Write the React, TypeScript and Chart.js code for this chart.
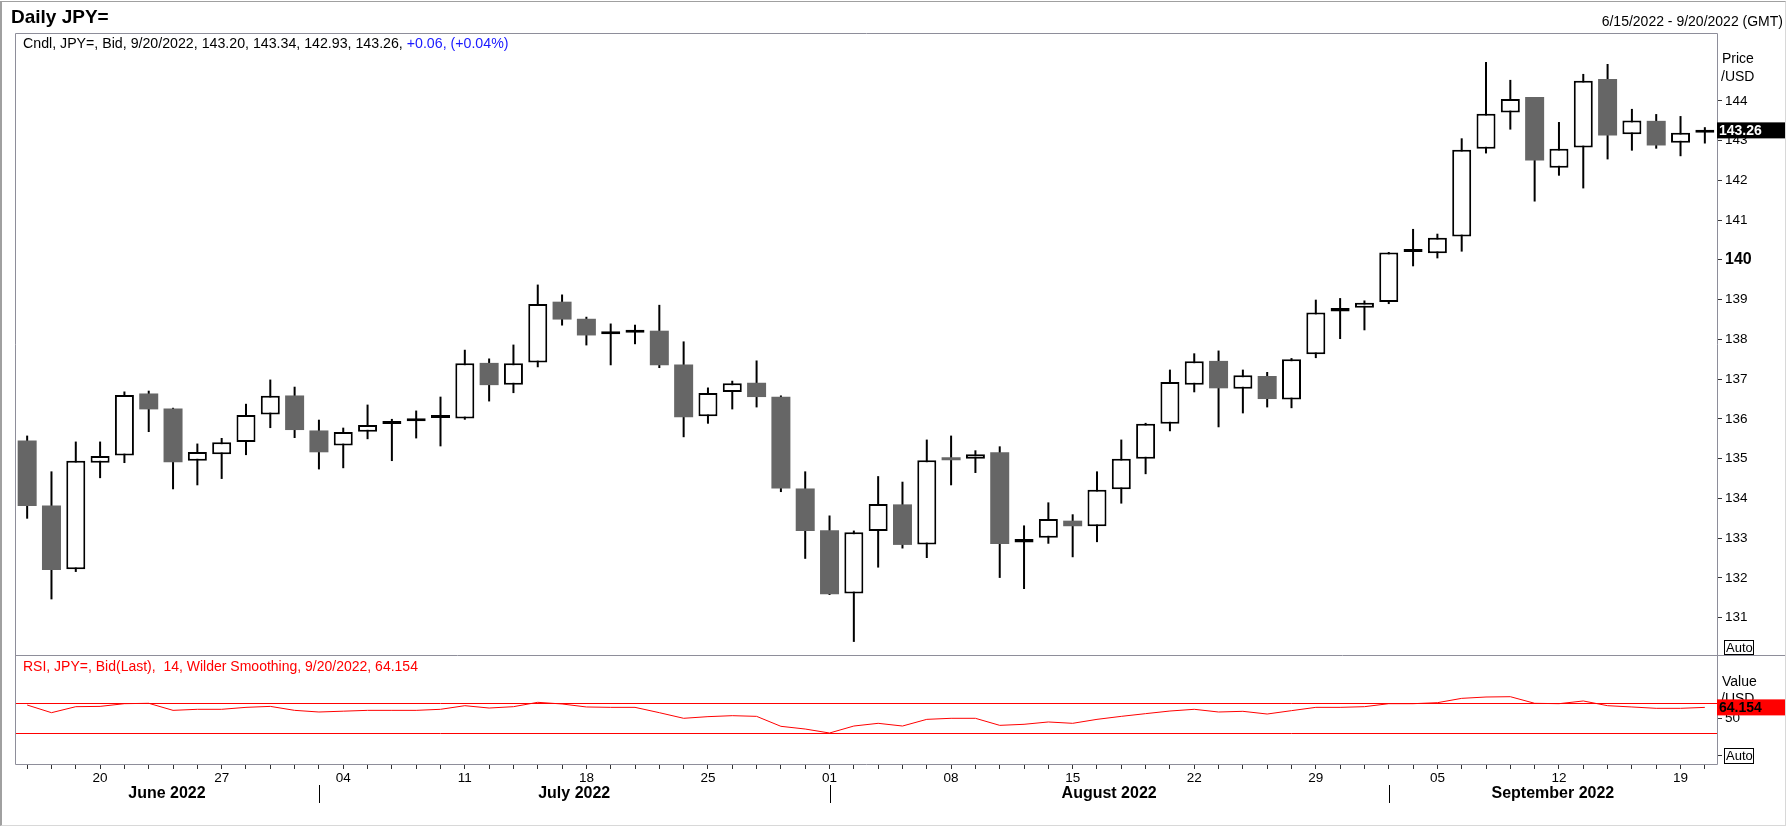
import React, { useEffect, useRef } from 'react';
import { Chart, registerables } from 'chart.js';

Chart.register(...registerables);

const FONT = '"Liberation Sans", Arial, sans-serif';
const FRAME = '#8e8e9a';

const dates = [
  '2022-06-15', '2022-06-16', '2022-06-17', '2022-06-20', '2022-06-21', '2022-06-22', '2022-06-23', '2022-06-24',
  '2022-06-27', '2022-06-28', '2022-06-29', '2022-06-30',
  '2022-07-01', '2022-07-04', '2022-07-05', '2022-07-06', '2022-07-07', '2022-07-08', '2022-07-11', '2022-07-12',
  '2022-07-13', '2022-07-14', '2022-07-15', '2022-07-18', '2022-07-19', '2022-07-20', '2022-07-21', '2022-07-22',
  '2022-07-25', '2022-07-26', '2022-07-27', '2022-07-28', '2022-07-29',
  '2022-08-01', '2022-08-02', '2022-08-03', '2022-08-04', '2022-08-05', '2022-08-08', '2022-08-09', '2022-08-10',
  '2022-08-11', '2022-08-12', '2022-08-15', '2022-08-16', '2022-08-17', '2022-08-18', '2022-08-19', '2022-08-22',
  '2022-08-23', '2022-08-24', '2022-08-25', '2022-08-26', '2022-08-29', '2022-08-30', '2022-08-31',
  '2022-09-01', '2022-09-02', '2022-09-05', '2022-09-06', '2022-09-07', '2022-09-08', '2022-09-09', '2022-09-12',
  '2022-09-13', '2022-09-14', '2022-09-15', '2022-09-16', '2022-09-19', '2022-09-20',
];

const openPrices = [
  135.46, 133.82, 132.22, 134.90, 135.08, 136.64, 136.26, 134.95, 135.11, 135.42, 136.11, 136.59,
  135.71, 135.33, 135.68, 135.87, 135.94, 136.02, 136.01, 137.41, 136.86, 137.42, 138.95, 138.52,
  138.13, 138.17, 138.22, 137.37, 136.07, 136.68, 136.91, 136.56, 134.25,
  133.20, 131.61, 133.18, 133.85, 132.84, 135.03, 135.00, 135.16, 132.89, 133.01, 133.44, 133.30,
  134.23, 135.00, 135.88, 136.86, 137.46, 136.76, 137.08, 136.49, 137.63, 138.70, 138.80,
  138.94, 140.20, 140.17, 140.59, 142.80, 143.71, 144.10, 142.32, 142.83, 144.55, 143.16, 143.50, 142.95, 143.20,
];
const highPrices = [
  135.58, 134.68, 135.43, 135.43, 136.69, 136.71, 136.28, 135.38, 135.52, 136.38, 136.99, 136.81,
  135.98, 135.78, 136.36, 136.00, 136.21, 136.56, 137.74, 137.52, 137.87, 139.38, 139.13, 138.57,
  138.40, 138.37, 138.87, 137.95, 136.79, 136.96, 137.47, 136.59, 134.68,
  133.57, 133.19, 134.56, 134.42, 135.48, 135.58, 135.21, 135.31, 133.32, 133.90, 133.60, 134.68,
  135.48, 135.90, 137.24, 137.65, 137.72, 137.24, 137.18, 137.53, 139.00, 139.04, 138.98,
  140.20, 140.78, 140.66, 143.06, 144.98, 144.53, 144.10, 143.47, 144.68, 144.93, 143.80, 143.67, 143.62, 143.34,
];
const lowPrices = [
  133.49, 131.46, 132.15, 134.51, 134.89, 135.67, 134.23, 134.33, 134.49, 135.09, 135.77, 135.52,
  134.73, 134.76, 135.49, 134.94, 135.51, 135.31, 135.98, 136.44, 136.65, 137.30, 138.35, 137.85,
  137.35, 137.88, 137.28, 135.54, 135.88, 136.24, 136.29, 134.16, 132.48,
  131.57, 130.39, 132.26, 132.74, 132.50, 134.33, 134.64, 132.00, 131.72, 132.86, 132.52, 132.90,
  133.87, 134.61, 135.69, 136.67, 135.79, 136.14, 136.29, 136.27, 137.53, 138.01, 138.23,
  138.89, 139.84, 140.04, 140.21, 142.68, 143.28, 141.47, 142.12, 141.80, 142.53, 142.75, 142.80, 142.61, 142.93,
];
const closePrices = [
  133.81, 132.20, 134.95, 135.07, 136.60, 136.24, 134.91, 135.17, 135.41, 136.10, 136.58, 135.72,
  135.16, 135.67, 135.85, 135.91, 135.96, 136.06, 137.40, 136.85, 137.40, 138.89, 138.50, 138.10,
  138.15, 138.19, 137.35, 136.04, 136.65, 136.90, 136.55, 134.25, 133.18,
  131.59, 133.15, 133.86, 132.83, 134.96, 134.96, 135.11, 132.85, 132.98, 133.48, 133.30, 134.22,
  135.00, 135.88, 136.93, 137.45, 136.77, 137.10, 136.50, 137.50, 138.68, 138.79, 138.92,
  140.19, 140.23, 140.56, 142.77, 143.68, 144.05, 142.50, 142.80, 144.51, 143.13, 143.51, 142.88, 143.20, 143.26,
];

const rsiValues = [
  67.3, 57.1, 65.1, 65.5, 69.1, 69.6, 60.2, 61.6, 61.6, 64.2, 65.5, 60.2,
  58.0, 59.1, 60.2, 60.2, 60.2, 61.6, 66.4, 63.3, 65.1, 70.9, 68.7, 64.7,
  64.2, 64.2, 57.1, 49.6, 51.8, 53.1, 52.2, 38.9, 35.3,
  30.0, 39.3, 42.9, 39.3, 48.2, 49.6, 49.6, 40.2, 41.6, 44.7, 42.9, 48.2,
  52.2, 55.8, 59.3, 61.6, 58.0, 58.9, 55.3, 59.8, 64.2, 64.2, 65.1,
  69.1, 69.1, 70.4, 76.2, 78.0, 78.4, 69.6, 69.1, 72.7, 66.4, 64.7, 62.9, 62.9, 64.154,
];

const priceTicks = [131, 132, 133, 134, 135, 136, 137, 138, 139, 140, 141, 142, 143, 144];
const rsiTicks = [0, 50];
const rsiLevels = [70, 30];

const n = dates.length;

const fmtDate = (s: string) => {
  const [y, m, d] = s.split('-');
  return `${+m}/${+d}/${y}`;
};
const isMonday = (s: string) => {
  const [y, m, d] = s.split('-').map(Number);
  return new Date(y, m - 1, d).getDay() === 1;
};
const monthName = (s: string) => {
  const [y, m] = s.split('-').map(Number);
  return new Date(y, m - 1, 1).toLocaleString('en-US', { month: 'long' }) + ' ' + y;
};

const pricePanel = {
  id: 'pricePanel',
  afterDraw(chart: any) {
    const { ctx, chartArea: a, scales } = chart;
    ctx.save();
    ctx.strokeStyle = FRAME;
    ctx.lineWidth = 1;
    ctx.beginPath();
    ctx.moveTo(a.left + 0.5, a.bottom);
    ctx.lineTo(a.left + 0.5, a.top + 0.5);
    ctx.lineTo(a.right + 0.5, a.top + 0.5);
    ctx.lineTo(a.right + 0.5, a.bottom);
    ctx.stroke();

    ctx.textAlign = 'left';
    ctx.textBaseline = 'alphabetic';
    ctx.fillStyle = '#000';
    ctx.font = `bold 19px ${FONT}`;
    ctx.fillText('Daily JPY=', 11, 23);
    ctx.font = `14px ${FONT}`;
    ctx.textAlign = 'right';
    ctx.fillText(`${fmtDate(dates[0])} - ${fmtDate(dates[n - 1])} (GMT)`, 1783, 26);

    // header line
    ctx.textAlign = 'left';
    ctx.font = `14.2px ${FONT}`;
    const last = n - 1;
    const chg = closePrices[last] - closePrices[last - 1];
    const pct = (chg / closePrices[last - 1]) * 100;
    const head = `Cndl, JPY=, Bid, ${fmtDate(dates[last])}, ${openPrices[last].toFixed(2)}, ${highPrices[last].toFixed(2)}, ${lowPrices[last].toFixed(2)}, ${closePrices[last].toFixed(2)}, `;
    ctx.fillText(head, 23, 48);
    const w = ctx.measureText(head).width;
    ctx.fillStyle = '#1a1aff';
    ctx.fillText(`${chg >= 0 ? '+' : ''}${chg.toFixed(2)}, (${pct >= 0 ? '+' : ''}${pct.toFixed(2)}%)`, 23 + w, 48);

    // right side labels
    ctx.font = `14px ${FONT}`;
    ctx.fillStyle = '#000';
    ctx.fillText('Price', a.right + 5, 63);
    ctx.fillText('/USD', a.right + 4, 81);

    // Auto box
    ctx.fillStyle = '#fff';
    ctx.fillRect(a.right + 7, a.bottom - 15, 29, 14);
    ctx.strokeStyle = '#000';
    ctx.strokeRect(a.right + 7.5, a.bottom - 14.5, 29, 14);
    ctx.fillStyle = '#000';
    ctx.font = `13px ${FONT}`;
    ctx.fillText('Auto', a.right + 9, a.bottom - 3);

    // last price box
    const y = scales.y.getPixelForValue(closePrices[last]);
    ctx.fillStyle = '#000';
    ctx.fillRect(a.right, y - 8, 68, 16);
    ctx.fillStyle = '#fff';
    ctx.font = `bold 14px ${FONT}`;
    ctx.textBaseline = 'middle';
    ctx.fillText(closePrices[last].toFixed(2), a.right + 2, y + 1);
    ctx.restore();
  },
};

const rsiPanel = {
  id: 'rsiPanel',
  beforeDatasetsDraw(chart: any) {
    const { ctx, chartArea: a, scales } = chart;
    ctx.save();
    ctx.strokeStyle = '#ff0000';
    ctx.lineWidth = 1;
    rsiLevels.forEach((lv) => {
      const y = Math.round(scales.y.getPixelForValue(lv)) + 0.5;
      ctx.beginPath();
      ctx.moveTo(a.left, y);
      ctx.lineTo(a.right, y);
      ctx.stroke();
    });
    ctx.restore();
  },
  afterDraw(chart: any) {
    const { ctx, chartArea: a, scales } = chart;
    ctx.save();
    ctx.strokeStyle = FRAME;
    ctx.lineWidth = 1;
    ctx.beginPath();
    ctx.moveTo(a.left, 0.5);
    ctx.lineTo(1785, 0.5);
    ctx.moveTo(a.left + 0.5, 0);
    ctx.lineTo(a.left + 0.5, a.bottom + 0.5);
    ctx.lineTo(a.right + 0.5, a.bottom + 0.5);
    ctx.lineTo(a.right + 0.5, 0);
    ctx.stroke();

    ctx.textAlign = 'left';
    ctx.textBaseline = 'alphabetic';
    ctx.font = `14px ${FONT}`;
    ctx.fillStyle = '#ff0000';
    ctx.fillText(`RSI, JPY=, Bid(Last),  14, Wilder Smoothing, ${fmtDate(dates[n - 1])}, ${rsiValues[n - 1].toFixed(3)}`, 23, 16);

    ctx.fillStyle = '#000';
    ctx.fillText('Value', a.right + 5, 31);
    ctx.fillText('/USD', a.right + 4, 48);

    // last value box
    const y = scales.y.getPixelForValue(rsiValues[n - 1]);
    ctx.fillStyle = '#ff0000';
    ctx.fillRect(a.right, y - 8, 68, 16);
    ctx.fillStyle = '#000';
    ctx.font = `bold 14px ${FONT}`;
    ctx.textBaseline = 'middle';
    ctx.fillText(rsiValues[n - 1].toFixed(3), a.right + 2, y + 1);

    // Auto box
    ctx.textBaseline = 'alphabetic';
    const ya = a.bottom - 16;
    ctx.fillStyle = '#fff';
    ctx.fillRect(a.right + 7, ya, 29, 15);
    ctx.strokeStyle = '#000';
    ctx.strokeRect(a.right + 7.5, ya + 0.5, 29, 15);
    ctx.fillStyle = '#000';
    ctx.font = `13px ${FONT}`;
    ctx.fillText('Auto', a.right + 9, ya + 12);

    // months
    const x = scales.x;
    const bounds = [a.left];
    const names = [monthName(dates[0])];
    for (let i = 1; i < n; i++) {
      if (dates[i].slice(0, 7) !== dates[i - 1].slice(0, 7)) {
        bounds.push(x.getPixelForValue(i));
        names.push(monthName(dates[i]));
      }
    }
    bounds.push(a.right);
    ctx.strokeStyle = '#000';
    for (let i = 1; i < bounds.length - 1; i++) {
      const bx = Math.round(bounds[i]) + 0.5;
      ctx.beginPath();
      ctx.moveTo(bx, 130);
      ctx.lineTo(bx, 148);
      ctx.stroke();
    }
    ctx.font = `bold 16px ${FONT}`;
    ctx.textAlign = 'center';
    names.forEach((nm, i) => {
      ctx.fillText(nm, (bounds[i] + bounds[i + 1]) / 2, 143);
    });
    ctx.restore();
  },
};

const App: React.FC = () => {
  const priceRef = useRef<HTMLCanvasElement | null>(null);
  const rsiRef = useRef<HTMLCanvasElement | null>(null);

  useEffect(() => {
    if (!priceRef.current || !rsiRef.current) return;
    Chart.defaults.font.family = FONT;

    const up = closePrices.map((c, i) => c >= openPrices[i]);

    const priceChart = new Chart(priceRef.current, {
      type: 'bar',
      data: {
        labels: dates,
        datasets: [
          {
            label: 'wick',
            data: lowPrices.map((l, i) => [l, highPrices[i]]) as any,
            backgroundColor: '#000',
            borderWidth: 0,
            barThickness: 2,
            grouped: false,
            inflateAmount: 0,
            order: 2,
          },
          {
            label: 'body',
            data: openPrices.map((o, i) => [o, closePrices[i]]) as any,
            backgroundColor: up.map((u) => (u ? '#ffffff' : '#666666')),
            borderColor: '#000',
            borderWidth: up.map((u) => (u ? 2 : 0)),
            borderSkipped: false,
            barThickness: 19,
            minBarLength: 3,
            grouped: false,
            inflateAmount: 0,
            order: 1,
          },
        ],
      },
      options: {
        responsive: false,
        animation: false,
        layout: { padding: { left: 15, top: 33, right: 0, bottom: 0 } },
        plugins: { legend: { display: false }, tooltip: { enabled: false } },
        scales: {
          x: { display: false, offset: true },
          y: {
            position: 'right',
            min: 130.06,
            max: 145.71,
            afterBuildTicks: (s: any) => {
              s.ticks = priceTicks.map((v) => ({ value: v }));
            },
            afterFit: (s: any) => {
              s.width = 71;
              s.paddingTop = 0;
              s.paddingBottom = 0;
            },
            border: { display: false },
            grid: { drawOnChartArea: false, drawTicks: true, tickLength: 5, color: '#333' },
            ticks: {
              padding: 3,
              color: '#000',
              font: (c: any) =>
                c.tick && c.tick.value === 140 ? { size: 16, weight: 'bold' } : { size: 13.5 },
              callback: (v: any) => String(v),
            },
          },
        },
      },
      plugins: [pricePanel],
    });

    const rsiChart = new Chart(rsiRef.current, {
      type: 'line',
      data: {
        labels: dates,
        datasets: [
          {
            label: 'RSI',
            data: rsiValues,
            borderColor: '#ff0000',
            borderWidth: 1,
            pointRadius: 0,
            tension: 0,
            fill: false,
          },
        ],
      },
      options: {
        responsive: false,
        animation: false,
        layout: { padding: { left: 15, top: 0, right: 0, bottom: 0 } },
        plugins: { legend: { display: false }, tooltip: { enabled: false } },
        scales: {
          x: {
            offset: true,
            afterFit: (s: any) => {
              s.height = 63;
              s.paddingLeft = 0;
              s.paddingRight = 0;
            },
            border: { display: false },
            grid: { offset: false, drawOnChartArea: false, tickLength: 5, color: '#333' },
            ticks: {
              autoSkip: false,
              maxRotation: 0,
              padding: 1,
              color: '#000',
              font: { size: 13.5 },
              callback: (_v: any, i: number) => (isMonday(dates[i]) ? dates[i].slice(8) : ''),
            },
          },
          y: {
            position: 'right',
            min: -11.33,
            max: 134,
            afterBuildTicks: (s: any) => {
              s.ticks = rsiTicks.map((v) => ({ value: v }));
            },
            afterFit: (s: any) => {
              s.width = 71;
              s.paddingTop = 0;
              s.paddingBottom = 0;
            },
            border: { display: false },
            grid: { drawOnChartArea: false, tickLength: 5, color: '#333' },
            ticks: {
              padding: 3,
              color: '#000',
              font: { size: 13.5 },
              callback: (v: any) => (v === 50 ? '50' : ''),
            },
          },
        },
      },
      plugins: [rsiPanel],
    });

    return () => {
      priceChart.destroy();
      rsiChart.destroy();
    };
  }, []);

  return (
    <div style={{ position: 'absolute', left: 0, top: 0, width: 1788, height: 827, background: '#fff', overflow: 'hidden' }}>
      <canvas ref={priceRef} width={1788} height={655} style={{ position: 'absolute', left: 0, top: 0 }} />
      <canvas ref={rsiRef} width={1788} height={172} style={{ position: 'absolute', left: 0, top: 655 }} />
      <div
        style={{
          position: 'absolute',
          left: 0,
          top: 1,
          width: 1786,
          height: 825,
          boxSizing: 'border-box',
          borderTop: '1px solid #a0a0a0',
          borderLeft: '2px solid #a0a0a0',
          borderRight: '1px solid #d8d8d8',
          borderBottom: '1px solid #d8d8d8',
          pointerEvents: 'none',
        }}
      />
    </div>
  );
};

export default App;
